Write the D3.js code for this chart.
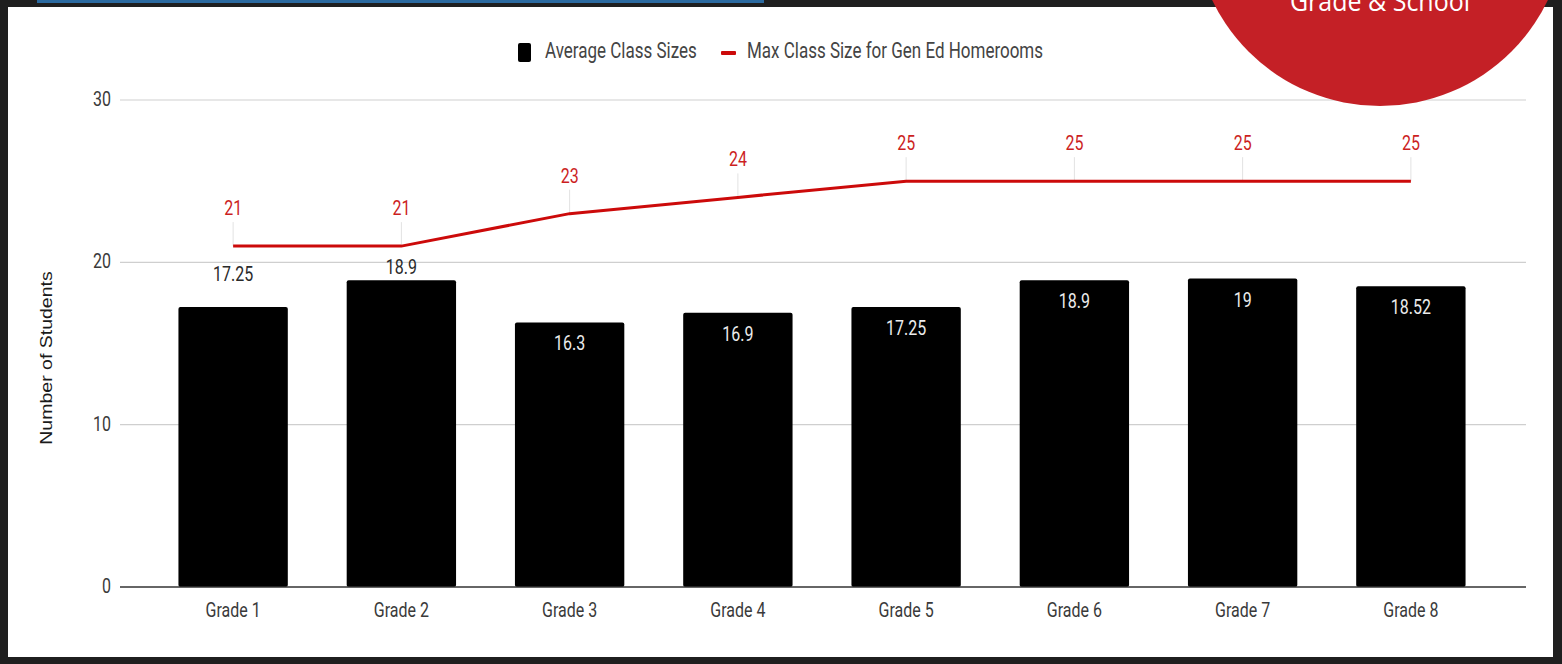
<!DOCTYPE html>
<html>
<head>
<meta charset="utf-8">
<script src="https://cdn.jsdelivr.net/npm/d3@7"></script>
<style>
  body { margin: 0; background: #1f1f1f; }
  svg { display: block; }
</style>
</head>
<body>
<div id="chart"></div>
<script>
// chart data
const grades = ['Grade 1', 'Grade 2', 'Grade 3', 'Grade 4', 'Grade 5', 'Grade 6', 'Grade 7', 'Grade 8'];
const avgSizes = [17.25, 18.9, 16.3, 16.9, 17.25, 18.9, 19, 18.52];
const avgLabels = ['17.25', '18.9', '16.3', '16.9', '17.25', '18.9', '19', '18.52'];
const maxSizes = [21, 21, 23, 24, 25, 25, 25, 25];
const labelInside = [false, false, true, true, true, true, true, true];
const yTicks = [0, 10, 20, 30];
const legendNames = ['Average Class Sizes', 'Max Class Size for Gen Ed Homerooms'];

const WIDTH = 1562;
const HEIGHT = 664;
const SY = 1.3; // text looks tall / condensed

const Y_SCALE = d3.scaleLinear().domain([0, 30]).range([587, 100]);
const X_SCALE = d3.scaleBand()
                  .domain(grades)
                  .range([149, 1495])
                  .paddingInner(0.35)
                  .paddingOuter(0.175);

let svg = d3.select('#chart')
            .append('svg')
            .attr('width', WIDTH)
            .attr('height', HEIGHT);

// frame
svg.append('rect').attr('width', WIDTH).attr('height', HEIGHT).attr('fill', '#1f1f1f');
svg.append('rect').attr('x', 37).attr('y', 0).attr('width', 727).attr('height', 3).attr('fill', '#2b6aa0');
svg.append('rect').attr('x', 8).attr('y', 7).attr('width', 1545).attr('height', 650).attr('fill', '#ffffff');

function addText(g, x, y, txt, opts) {
    return g.append('text')
            .attr('transform', 'translate(' + x + ',' + y + ') scale(1,' + SY + ')')
            .attr('text-anchor', opts.anchor || 'middle')
            .attr('font-family', opts.family || 'Roboto, sans-serif')
            .attr('font-size', opts.size || 16)
            .attr('fill', opts.fill || '#444')
            .text(txt);
}

// grid
svg.append('g')
   .selectAll('line')
   .data(yTicks.filter(d => d > 0))
   .enter()
   .append('line')
   .attr('x1', 120).attr('x2', 1526)
   .attr('y1', d => Y_SCALE(d)).attr('y2', d => Y_SCALE(d))
   .attr('stroke', '#cfcfcf')
   .attr('stroke-width', 1.2);

// y tick labels
yTicks.forEach(t => addText(svg, 111, Y_SCALE(t) + 6, t, {anchor: 'end', fill: '#3a3a3a'}));

// axis title
svg.append('text')
   .attr('transform', 'translate(52,358) rotate(-90) scale(1.22,1)')
   .attr('text-anchor', 'middle')
   .attr('font-family', 'Liberation Sans, Arial, sans-serif')
   .attr('font-size', 16)
   .attr('fill', '#1a1a1a')
   .text('Number of Students');

// bars
svg.append('g')
   .selectAll('rect')
   .data(grades)
   .enter()
   .append('rect')
   .attr('x', d => X_SCALE(d))
   .attr('y', (d, i) => Y_SCALE(avgSizes[i]))
   .attr('width', X_SCALE.bandwidth())
   .attr('height', (d, i) => Y_SCALE(0) - Y_SCALE(avgSizes[i]))
   .attr('rx', 2)
   .attr('fill', '#000');

// baseline
svg.append('line')
   .attr('x1', 120).attr('x2', 1526)
   .attr('y1', Y_SCALE(0)).attr('y2', Y_SCALE(0))
   .attr('stroke', '#333')
   .attr('stroke-width', 1.5);

// bar labels
grades.forEach((g, i) => {
    let cx = X_SCALE(g) + X_SCALE.bandwidth() / 2;
    let top = Y_SCALE(avgSizes[i]);
    if (labelInside[i]) {
        addText(svg, cx, top + 28, avgLabels[i], {fill: '#ececec'});
    } else {
        let ly = Math.min(top - 12, Y_SCALE(20) + 13);
        addText(svg, cx, ly + 6, avgLabels[i], {fill: '#2a2a2a'});
    }
});

// max line
const line = d3.line()
               .x((d, i) => X_SCALE(grades[i]) + X_SCALE.bandwidth() / 2)
               .y(d => Y_SCALE(d));

svg.append('g')
   .selectAll('line')
   .data(maxSizes)
   .enter()
   .append('line')
   .attr('x1', (d, i) => X_SCALE(grades[i]) + X_SCALE.bandwidth() / 2)
   .attr('x2', (d, i) => X_SCALE(grades[i]) + X_SCALE.bandwidth() / 2)
   .attr('y1', d => Y_SCALE(d) - 24)
   .attr('y2', d => Y_SCALE(d))
   .attr('stroke', '#e2e2e2')
   .attr('stroke-width', 1);

svg.append('path')
   .datum(maxSizes)
   .attr('d', line)
   .attr('fill', 'none')
   .attr('stroke', '#cc0a0a')
   .attr('stroke-width', 3);

maxSizes.forEach((v, i) => {
    let cx = X_SCALE(grades[i]) + X_SCALE.bandwidth() / 2;
    addText(svg, cx, Y_SCALE(v) - 31, v, {fill: '#cc1f1f'});
});

// x labels
grades.forEach(g => addText(svg, X_SCALE(g) + X_SCALE.bandwidth() / 2, 617, g, {fill: '#3a3a3a'}));

// legend
svg.append('rect').attr('x', 518).attr('y', 43).attr('width', 13).attr('height', 19).attr('rx', 2).attr('fill', '#000');
addText(svg, 545, 58, legendNames[0], {anchor: 'start', fill: '#444', size: 17});
svg.append('rect').attr('x', 721).attr('y', 51).attr('width', 15).attr('height', 4).attr('rx', 1).attr('fill', '#cc0a0a');
addText(svg, 747, 58, legendNames[1], {anchor: 'start', fill: '#444', size: 17});

// red badge top right
svg.append('circle').attr('cx', 1380).attr('cy', -80).attr('r', 186).attr('fill', '#c42026');
svg.append('text')
   .attr('transform', 'translate(1380,11) scale(1,1.1)')
   .attr('text-anchor', 'middle')
   .attr('font-family', 'Open Sans, sans-serif')
   .attr('font-size', 25)
   .attr('fill', '#fff')
   .text('Grade & School');
</script>
</body>
</html>
